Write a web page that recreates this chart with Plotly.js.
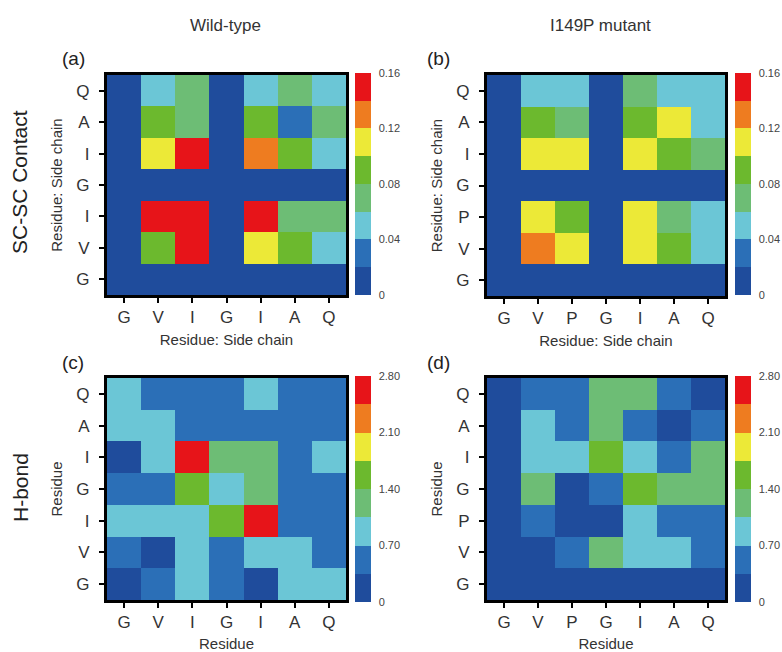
<!DOCTYPE html>
<html>
<head>
<meta charset="utf-8">
<script src="https://cdn.plot.ly/plotly-3.0.1.min.js"></script>
<style>html,body{margin:0;padding:0;background:#fff;}#chart{width:782px;height:652px;}</style>
</head>
<body>
<div id="chart"></div>
<script>
// ---- Data (rows listed top to bottom, columns left to right) ----
const colLabelsWT = ['G', 'V', 'I', 'G', 'I', 'A', 'Q'];
const rowLabelsWT = ['Q', 'A', 'I', 'G', 'I', 'V', 'G'];
const colLabelsMut = ['G', 'V', 'P', 'G', 'I', 'A', 'Q'];
const rowLabelsMut = ['Q', 'A', 'I', 'G', 'P', 'V', 'G'];

const scContactWT = [
  [0, 0.05, 0.07, 0, 0.05, 0.07, 0.05],
  [0, 0.09, 0.07, 0, 0.09, 0.03, 0.07],
  [0, 0.11, 0.15, 0, 0.13, 0.09, 0.05],
  [0, 0, 0, 0, 0, 0, 0],
  [0, 0.15, 0.15, 0, 0.15, 0.07, 0.07],
  [0, 0.09, 0.15, 0, 0.11, 0.09, 0.05],
  [0, 0, 0, 0, 0, 0, 0]
];
const scContactMut = [
  [0, 0.05, 0.05, 0, 0.07, 0.05, 0.05],
  [0, 0.09, 0.07, 0, 0.09, 0.11, 0.05],
  [0, 0.11, 0.11, 0, 0.11, 0.09, 0.07],
  [0, 0, 0, 0, 0, 0, 0],
  [0, 0.11, 0.09, 0, 0.11, 0.07, 0.05],
  [0, 0.13, 0.11, 0, 0.11, 0.09, 0.05],
  [0, 0, 0, 0, 0, 0, 0]
];
const hbondWT = [
  [0.9, 0.5, 0.5, 0.5, 0.9, 0.5, 0.5],
  [0.9, 0.9, 0.5, 0.5, 0.5, 0.5, 0.5],
  [0.2, 0.9, 2.6, 1.2, 1.2, 0.5, 0.9],
  [0.5, 0.5, 1.6, 0.9, 1.2, 0.5, 0.5],
  [0.9, 0.9, 0.9, 1.6, 2.6, 0.5, 0.5],
  [0.5, 0.2, 0.9, 0.5, 0.9, 0.9, 0.5],
  [0.2, 0.5, 0.9, 0.5, 0.2, 0.9, 0.9]
];
const hbondMut = [
  [0.1, 0.5, 0.5, 1.2, 1.2, 0.5, 0.2],
  [0.1, 0.9, 0.5, 1.2, 0.5, 0.2, 0.5],
  [0.1, 0.9, 0.9, 1.6, 0.9, 0.5, 1.2],
  [0.1, 1.2, 0.2, 0.5, 1.6, 1.2, 1.2],
  [0.1, 0.5, 0.2, 0.2, 0.9, 0.5, 0.5],
  [0.1, 0.1, 0.5, 1.2, 0.9, 0.9, 0.5],
  [0.1, 0.1, 0.1, 0.1, 0.1, 0.1, 0.1]
];
const scTickVals = [0, 0.04, 0.08, 0.12, 0.16];
const scTickText = ['0', '0.04', '0.08', '0.12', '0.16'];
const hbTickVals = [0, 0.7, 1.4, 2.1, 2.8];
const hbTickText = ['0', '0.70', '1.40', '2.10', '2.80'];

// ---- Style ----
const levelColors = ['#1f4c9c', '#2b6fb7', '#6bc6d6', '#6dbd75', '#6cb92e', '#ece937', '#ee7c20', '#e71419'];
const colorscale = [];
levelColors.forEach((c, i) => {
  colorscale.push([i / levelColors.length, c]);
  colorscale.push([(i + 1) / levelColors.length, c]);
});

const W = 782, H = 652;
const px = v => v / W;
const py = v => 1 - v / H;
const idx = [0, 1, 2, 3, 4, 5, 6];
const FONT = 'Liberation Sans, Arial, sans-serif';

function heat(z, zmax, tv, tt, xa, ya, cbx, cbTop, cbLen) {
  return {
    type: 'heatmap', z: z, x: idx, y: idx, xaxis: xa, yaxis: ya,
    zmin: 0, zmax: zmax, colorscale: colorscale,
    colorbar: {
      x: px(cbx), xanchor: 'left', y: py(cbTop), yanchor: 'top',
      len: cbLen, lenmode: 'pixels', thickness: 16, thicknessmode: 'pixels',
      outlinewidth: 0, xpad: 0, ypad: 0,
      tickvals: tv, ticktext: tt, ticks: 'outside', ticklen: 6, tickcolor: 'rgba(0,0,0,0)',
      tickfont: {family: FONT, size: 11, color: '#444'}
    }
  };
}

const data = [
  heat(scContactWT, 0.16, scTickVals, scTickText, 'x', 'y', 355, 73, 222),
  heat(scContactMut, 0.16, scTickVals, scTickText, 'x2', 'y2', 735, 73, 222),
  heat(hbondWT, 2.8, hbTickVals, hbTickText, 'x3', 'y3', 355, 376, 226),
  heat(hbondMut, 2.8, hbTickVals, hbTickText, 'x4', 'y4', 735, 376, 226)
];

function xax(l, r, labels, title, anchor) {
  return {
    domain: [px(l), px(r)], anchor: anchor, range: [-0.5, 6.5],
    tickvals: idx, ticktext: labels, showgrid: false, zeroline: false,
    showline: true, linewidth: 3, linecolor: '#000', mirror: true,
    ticks: 'outside', ticklen: 5, tickwidth: 2, tickcolor: '#000',
    tickfont: {family: FONT, size: 17, color: '#333'},
    title: {text: title, font: {family: FONT, size: 15, color: '#333'}, standoff: 9},
    fixedrange: true
  };
}
function yax(t, b, labels, title, anchor) {
  return {
    domain: [py(b), py(t)], anchor: anchor, range: [6.5, -0.5],
    tickvals: idx, ticktext: labels, showgrid: false, zeroline: false,
    showline: true, linewidth: 3, linecolor: '#000', mirror: true,
    ticks: 'outside', ticklen: 5, tickwidth: 2, tickcolor: '#000',
    ticklabelstandoff: 6,
    tickfont: {family: FONT, size: 17, color: '#333'},
    title: {text: title, font: {family: FONT, size: 15, color: '#333'}, standoff: 11},
    fixedrange: true
  };
}

function label(text, x, y, size, extra) {
  return Object.assign({
    text: text, x: px(x), y: py(y), xref: 'paper', yref: 'paper',
    xanchor: 'center', yanchor: 'middle', showarrow: false,
    font: {family: FONT, size: size, color: '#222'}
  }, extra || {});
}

const layout = {
  width: W, height: H,
  margin: {l: 0, r: 0, t: 0, b: 0, autoexpand: false},
  paper_bgcolor: '#fff', plot_bgcolor: '#fff',
  showlegend: false,
  xaxis: xax(107, 346, colLabelsWT, 'Residue: Side chain', 'y'),
  yaxis: yax(75, 295, rowLabelsWT, 'Residue: Side chain', 'x'),
  xaxis2: xax(487, 725, colLabelsMut, 'Residue: Side chain', 'y2'),
  yaxis2: yax(75, 296, rowLabelsMut, 'Residue: Side chain', 'x2'),
  xaxis3: xax(107, 346, colLabelsWT, 'Residue', 'y3'),
  yaxis3: yax(378, 600, rowLabelsWT, 'Residue', 'x3'),
  xaxis4: xax(487, 725, colLabelsMut, 'Residue', 'y4'),
  yaxis4: yax(378, 600, rowLabelsMut, 'Residue', 'x4'),
  annotations: [
    label('Wild-type', 225, 25, 17, {font: {family: 'Liberation Sans Narrow, ' + FONT, size: 17, color: '#333'}}),
    label('I149P mutant', 600, 25, 17, {font: {family: 'Liberation Sans Narrow, ' + FONT, size: 17, color: '#333'}}),
    label('(a)', 73, 58, 19),
    label('(b)', 439, 58, 19),
    label('(c)', 73, 362, 19),
    label('(d)', 439, 362, 19),
    label('SC-SC Contact', 20, 182, 21, {textangle: -90}),
    label('H-bond', 20, 488, 21, {textangle: -90})
  ]
};

Plotly.newPlot('chart', data, layout, {displayModeBar: false, staticPlot: true});
</script>
</body>
</html>
